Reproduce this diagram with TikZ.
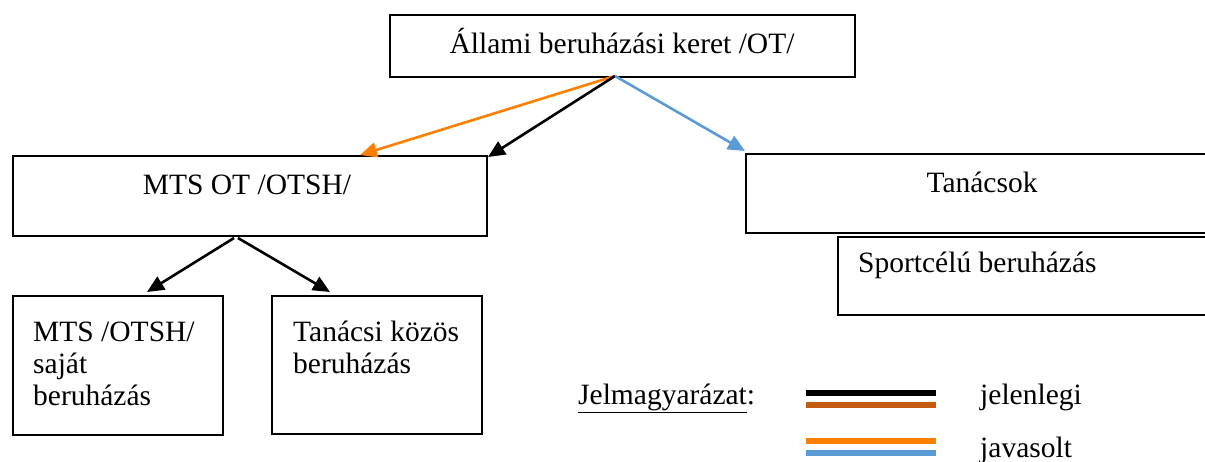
\documentclass[tikz,border=0pt]{standalone}
\usepackage{fontspec}
\setmainfont{Liberation Serif}
\usetikzlibrary{arrows.meta}
\definecolor{cOrange}{HTML}{FF8000}
\definecolor{cBlue}{HTML}{5B9BD5}
\definecolor{cBrown}{HTML}{C55A11}
\tikzset{
  box/.style={draw=black, line width=2pt, rectangle, inner sep=0pt, anchor=north west},
  txt/.style={inner sep=0pt, font=\fontsize{29.5}{32}\selectfont},
  arr/.style={line width=2.6pt, -{Triangle[length=17pt,width=15pt]}},
  legline/.style={line width=6pt}
}
\begin{document}
\begin{tikzpicture}[x=1pt,y=-1pt]
\clip (0,0) rectangle (1205,461);
\useasboundingbox (0,0) rectangle (1205,461);
% boxes
\node[box, minimum width=465pt, minimum height=62pt] (top) at (389,14) {};
\node[box, minimum width=474pt, minimum height=80pt] (mts) at (12,155) {};
\node[box, minimum width=480pt, minimum height=79pt] (tan) at (745,153) {};
\node[box, minimum width=390pt, minimum height=78pt] (sport) at (837,236) {};
\node[box, minimum width=210pt, minimum height=139pt] (own) at (12,295) {};
\node[box, minimum width=210pt, minimum height=138pt] (common) at (271,295) {};
% texts
\node[txt, anchor=base] (ttop) at (622,53) {Állami beruházási keret /OT/};
\node[txt, anchor=base] (tmts) at (247,194) {MTS OT /OTSH/};
\node[txt, anchor=base] (ttan) at (982,192) {Tanácsok};
\node[txt, anchor=base west] (tsport) at (858,272) {Sportcélú beruházás};
\node[txt, anchor=base west, align=left] (town) at (33,405) {MTS /OTSH/\\saját\\beruházás};
\node[txt, anchor=base west, align=left] (tcommon) at (293,373) {Tanácsi közös\\beruházás};
% connector points
\coordinate (src) at (615,76);
\coordinate (tipO) at (360,155);
\coordinate (tipK) at (488,157);
\coordinate (tipB) at (745,151);
\coordinate (msrcL) at (234,238);
\coordinate (msrcR) at (238,238);
\coordinate (tipL) at (147,292);
\coordinate (tipR) at (330,292);
\draw[arr, draw=cOrange, fill=cOrange] (src) -- (tipO);
\draw[arr, draw=black] (src) -- (tipK);
\draw[arr, draw=cBlue, fill=cBlue] (src) -- (tipB);
\draw[arr, draw=black] (msrcL) -- (tipL);
\draw[arr, draw=black] (msrcR) -- (tipR);
% legend
\node[txt, anchor=base west] (leg) at (578,404) {\underline{Jelmagyarázat}:};
\coordinate (l1a) at (806,393); \coordinate (l1b) at (936,393);
\coordinate (l2a) at (806,405); \coordinate (l2b) at (936,405);
\coordinate (l3a) at (806,441); \coordinate (l3b) at (936,441);
\coordinate (l4a) at (806,453); \coordinate (l4b) at (936,453);
\draw[legline, black] (l1a) -- (l1b);
\draw[legline, cBrown] (l2a) -- (l2b);
\draw[legline, cOrange] (l3a) -- (l3b);
\draw[legline, cBlue] (l4a) -- (l4b);
\node[txt, anchor=base west] (jel) at (980,404) {jelenlegi};
\node[txt, anchor=base west] (jav) at (980,457) {javasolt};
\end{tikzpicture}
\end{document}
